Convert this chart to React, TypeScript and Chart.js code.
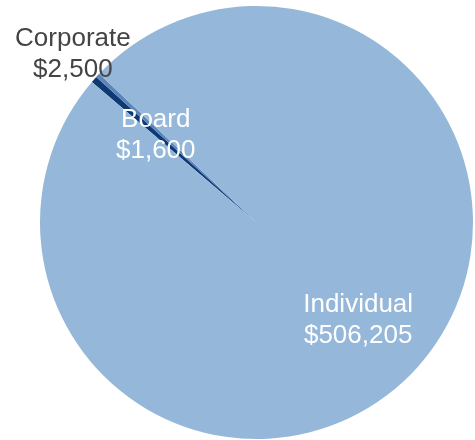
import React, { useEffect, useRef } from "react";
import { Chart, registerables } from "chart.js";

Chart.register(...registerables);

const categories = ["Corporate", "Board", "Individual"];
const amounts = [2500, 1600, 506205];
const valueLabels = ["$2,500", "$1,600", "$506,205"];
const colors = ["#0d3a74", "#5c85ba", "#95b8da"];
const labelColors = ["#444444", "#ffffff", "#ffffff"];
// radial placement of label relative to radius, and angle offset (deg)
const labelRadius = [1.15, 0.615, 0.651];
const labelAngleShift = [1.1, -2.0, 1.9];

const labelPlugin = {
  id: "sliceLabels",
  afterDatasetsDraw(chart: any) {
    const ctx = chart.ctx;
    const meta = chart.getDatasetMeta(0);
    ctx.save();
    ctx.font = '26px "Liberation Sans", Arial, sans-serif';
    ctx.textAlign = "center";
    ctx.textBaseline = "middle";
    meta.data.forEach((arc: any, i: number) => {
      const { x, y, startAngle, endAngle, outerRadius } = arc.getProps(
        ["x", "y", "startAngle", "endAngle", "outerRadius"],
        true
      );
      const mid = (startAngle + endAngle) / 2 + (labelAngleShift[i] * Math.PI) / 180;
      const r = outerRadius * labelRadius[i];
      const cx = x + Math.cos(mid) * r;
      const cy = y + Math.sin(mid) * r;
      ctx.fillStyle = labelColors[i];
      ctx.fillText(categories[i], cx, cy - 15.5);
      ctx.fillText(valueLabels[i], cx, cy + 15.5);
    });
    ctx.restore();
  },
};

export default function App() {
  const ref = useRef<HTMLCanvasElement>(null);
  useEffect(() => {
    document.body.style.margin = "0";
    const chart = new Chart(ref.current!, {
      type: "pie",
      data: {
        labels: categories,
        datasets: [
          {
            data: amounts,
            backgroundColor: colors,
            borderWidth: 0,
          },
        ],
      },
      options: {
        animation: false,
        responsive: false,
        rotation: -49.5,
        layout: { padding: { left: 40, right: 2, top: 6, bottom: 1 } },
        plugins: {
          legend: { display: false },
          tooltip: { enabled: false },
        },
      },
      plugins: [labelPlugin],
    });
    return () => chart.destroy();
  }, []);
  return (
    <div style={{ position: "absolute", left: 0, top: 0, width: 475, height: 440 }}>
      <canvas ref={ref} width={475} height={440} />
    </div>
  );
}
